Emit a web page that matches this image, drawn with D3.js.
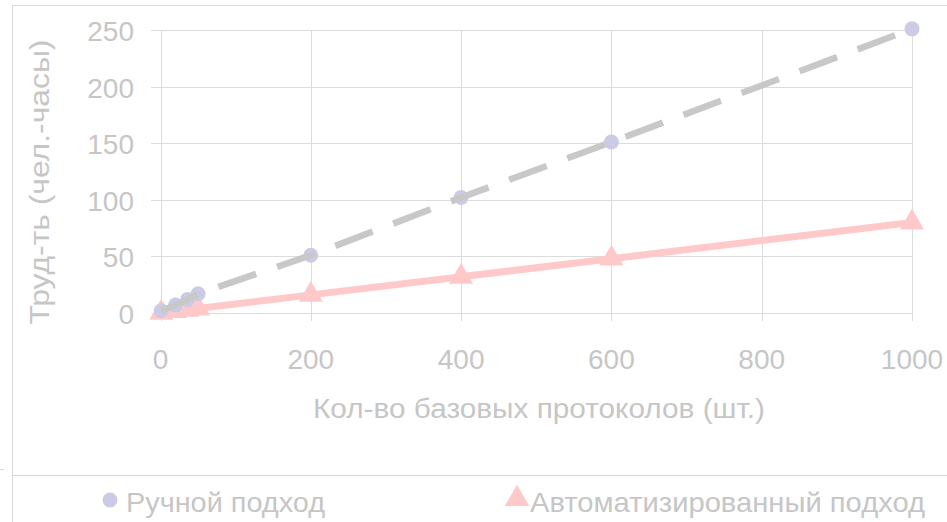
<!DOCTYPE html>
<html>
<head>
<meta charset="utf-8">
<script src="https://cdn.jsdelivr.net/npm/d3@7"></script>
<style>
  html, body { margin: 0; padding: 0; background: #fff; }
  svg { display: block; font-family: "Liberation Sans", Arial, sans-serif; }
</style>
</head>
<body>
<div id="chart"></div>
<script>
// ── DATA ─────────────────────────────────────
const manualX = [1, 20, 36, 50, 200, 400, 600, 1000];
const manualY = [2, 7, 12, 17, 51, 102, 151, 251];

const autoX = [1, 20, 36, 50, 200, 400, 600, 1000];
const autoY = [0.1, 1.6, 2.9, 4, 16, 32, 48, 80];

const xTicks = [0, 200, 400, 600, 800, 1000];
const yTicks = [0, 50, 100, 150, 200, 250];

const seriesNames = ['Ручной подход', 'Автоматизированный подход'];
const xTitle = 'Кол-во базовых протоколов (шт.)';
const yTitle = 'Труд-ть (чел.-часы)';

// ── COLOURS ──────────────────────────────────
const TEXT = '#c6c6c6';
const GRID = '#dcdcdc';
const FRAME = '#d9d9d9';
const MANUAL_DOT = '#cbcbe6';
const MANUAL_LINE = '#c8c8c8';
const AUTO = '#ffc9c9';

// ── SETUP ────────────────────────────────────
const W = 947, H = 522;

const svg = d3.select('#chart')
  .append('svg')
  .attr('width', W)
  .attr('height', H);

const x = d3.scaleLinear().domain([0, 1000]).range([160.5, 912]);
const y = d3.scaleLinear().domain([0, 250]).range([313, 30]);

// frame
svg.append('line').attr('x1', 12.5).attr('x2', 12.5).attr('y1', 5.5).attr('y2', H)
  .attr('stroke', FRAME);
svg.append('line').attr('x1', 12.5).attr('x2', W).attr('y1', 5.5).attr('y2', 5.5)
  .attr('stroke', FRAME);
svg.append('line').attr('x1', 12.5).attr('x2', W).attr('y1', 475.5).attr('y2', 475.5)
  .attr('stroke', FRAME);
svg.append('line').attr('x1', 0).attr('x2', 4).attr('y1', 469.5).attr('y2', 469.5)
  .attr('stroke', FRAME);

// ── GRID / AXES ──────────────────────────────
const g = svg.append('g');

g.selectAll('.hgrid')
  .data(yTicks)
  .enter()
  .append('line')
  .attr('x1', 151)
  .attr('x2', x(1000))
  .attr('y1', d => Math.round(y(d)) + 0.5)
  .attr('y2', d => Math.round(y(d)) + 0.5)
  .attr('stroke', GRID);

g.selectAll('.vgrid')
  .data(xTicks)
  .enter()
  .append('line')
  .attr('x1', d => Math.round(x(d)) + 0.5)
  .attr('x2', d => Math.round(x(d)) + 0.5)
  .attr('y1', y(250))
  .attr('y2', y(0) + 8)
  .attr('stroke', GRID);

// tick labels
g.selectAll('.ylab')
  .data(yTicks)
  .enter()
  .append('text')
  .attr('x', 134)
  .attr('y', d => y(d) + 11)
  .attr('text-anchor', 'end')
  .attr('font-size', 28)
  .attr('fill', TEXT)
  .text(d => d);

g.selectAll('.xlab')
  .data(xTicks)
  .enter()
  .append('text')
  .attr('x', d => x(d))
  .attr('y', 369)
  .attr('text-anchor', 'middle')
  .attr('font-size', 28)
  .attr('fill', TEXT)
  .text(d => d);

// titles
svg.append('text')
  .attr('x', 539)
  .attr('y', 418)
  .attr('text-anchor', 'middle')
  .attr('font-size', 27)
  .attr('fill', TEXT)
  .attr('textLength', 452)
  .attr('lengthAdjust', 'spacingAndGlyphs')
  .text(xTitle);

svg.append('text')
  .attr('transform', 'translate(49,182) rotate(-90)')
  .attr('text-anchor', 'middle')
  .attr('font-size', 27)
  .attr('fill', TEXT)
  .attr('textLength', 285)
  .attr('lengthAdjust', 'spacingAndGlyphs')
  .text(yTitle);

// ── SERIES ───────────────────────────────────
const manual = manualX.map((v, i) => [v, manualY[i]]);
const auto = autoX.map((v, i) => [v, autoY[i]]);

const line = d3.line().x(d => x(d[0])).y(d => y(d[1]));

svg.append('path')
  .datum(auto)
  .attr('d', line)
  .attr('fill', 'none')
  .attr('stroke', AUTO)
  .attr('stroke-width', 7);

const tri = d3.symbol().type(d3.symbolTriangle).size(250);

svg.selectAll('.tri')
  .data(auto)
  .enter()
  .append('path')
  .attr('d', tri)
  .attr('transform', d => `translate(${x(d[0])},${y(d[1])})`)
  .attr('fill', AUTO);

svg.selectAll('.dot')
  .data(manual)
  .enter()
  .append('circle')
  .attr('cx', d => x(d[0]))
  .attr('cy', d => y(d[1]))
  .attr('r', 7.5)
  .attr('fill', MANUAL_DOT);

svg.append('path')
  .datum(manual)
  .attr('d', line)
  .attr('fill', 'none')
  .attr('stroke', MANUAL_LINE)
  .attr('stroke-width', 6.5)
  .attr('stroke-dasharray', '40,22');

// ── LEGEND ───────────────────────────────────
svg.append('circle')
  .attr('cx', 110)
  .attr('cy', 500)
  .attr('r', 7.5)
  .attr('fill', MANUAL_DOT);

svg.append('text')
  .attr('x', 126)
  .attr('y', 512)
  .attr('font-size', 28)
  .attr('fill', TEXT)
  .attr('textLength', 199)
  .attr('lengthAdjust', 'spacingAndGlyphs')
  .text(seriesNames[0]);

svg.append('path')
  .attr('d', d3.symbol().type(d3.symbolTriangle).size(260))
  .attr('transform', 'translate(517,499)')
  .attr('fill', AUTO);

svg.append('text')
  .attr('x', 530)
  .attr('y', 512)
  .attr('font-size', 28)
  .attr('fill', TEXT)
  .attr('textLength', 395)
  .attr('lengthAdjust', 'spacingAndGlyphs')
  .text(seriesNames[1]);
</script>
</body>
</html>
